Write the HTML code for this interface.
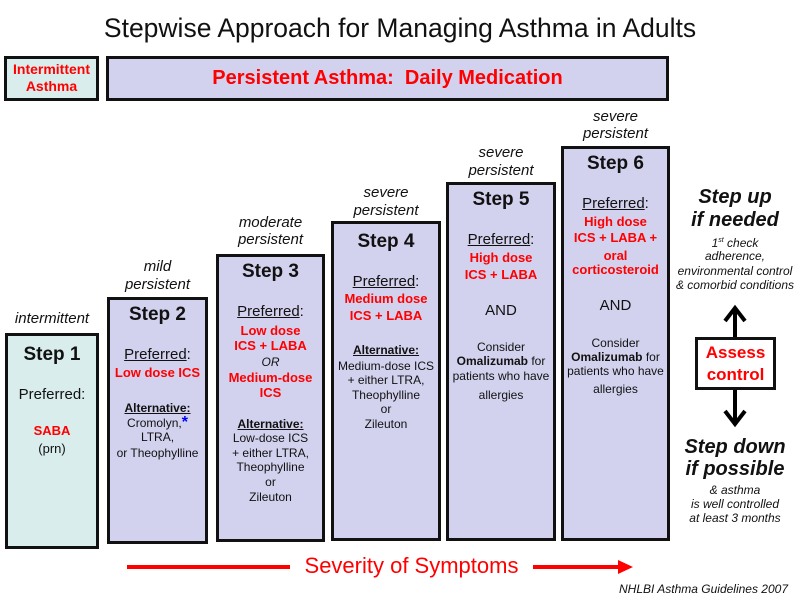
<!DOCTYPE html>
<html><head><meta charset="utf-8"><style>
body{margin:0;width:800px;height:600px;background:#fff;position:relative;overflow:hidden;font-family:"Liberation Sans",Arial,sans-serif;color:#111}
.b{position:absolute;border:3px solid #111;box-sizing:border-box;background:#d2d2ef}
.t{position:absolute;text-align:center;line-height:16px;white-space:nowrap;font-size:12px}
.r{color:#f00;font-weight:bold;font-size:13px}
.h{font-weight:bold;font-size:19px;line-height:22px}
.i{font-style:italic;font-size:15px}
.p{font-size:15px}
.u{text-decoration:underline}
.al{font-weight:bold;text-decoration:underline;font-size:12px}
.s{font-size:12px;line-height:14px;font-style:italic}
.big{font-size:20px;line-height:22px;font-weight:bold;font-style:italic}
</style></head><body>
<div class="t" style="left:0;width:800px;top:12px;font-size:26.5px;line-height:32px">Stepwise Approach for Managing Asthma in Adults</div>
<div class="b" style="left:4px;top:56px;width:95px;height:45px;background:#daeded"></div>
<div class="t r" style="left:4px;width:95px;top:61px;font-size:14px">Intermittent</div>
<div class="t r" style="left:4px;width:95px;top:78px;font-size:14px">Asthma</div>
<div class="b" style="left:106px;top:56px;width:563px;height:45px"></div>
<div class="t r" style="left:106px;width:563px;top:66px;font-size:20px;line-height:24px">Persistent Asthma:&nbsp; Daily Medication</div>

<!-- Step1 -->
<div class="b" style="left:5px;top:333px;width:94px;height:216px;background:#daeded"></div>
<div class="t i" style="left:0;width:104px;top:311px">intermittent</div>
<div class="t h" style="left:5px;width:94px;top:344px">Step 1</div>
<div class="t p" style="left:5px;width:94px;top:387px">Preferred:</div>
<div class="t r" style="left:5px;width:94px;top:423px">SABA</div>
<div class="t" style="left:5px;width:94px;top:441px;font-size:13px">(prn)</div>

<!-- Step2 -->
<div class="b" style="left:107px;top:297px;width:101px;height:247px"></div>
<div class="t i" style="left:107px;width:101px;top:259px">mild</div>
<div class="t i" style="left:107px;width:101px;top:277px">persistent</div>
<div class="t h" style="left:107px;width:101px;top:304px">Step 2</div>
<div class="t p" style="left:107px;width:101px;top:347px"><span class="u">Preferred</span>:</div>
<div class="t r" style="left:107px;width:101px;top:365px">Low dose ICS</div>
<div class="t al" style="left:107px;width:101px;top:400px">Alternative:</div>
<div class="t" style="left:107px;width:101px;top:415px">Cromolyn,<b style="color:#00f;font-size:16px">*</b></div>
<div class="t" style="left:107px;width:101px;top:429px">LTRA,</div>
<div class="t" style="left:107px;width:101px;top:445px">or Theophylline</div>

<!-- Step3 -->
<div class="b" style="left:216px;top:254px;width:109px;height:288px"></div>
<div class="t i" style="left:216px;width:109px;top:215px">moderate</div>
<div class="t i" style="left:216px;width:109px;top:232px">persistent</div>
<div class="t h" style="left:216px;width:109px;top:261px">Step 3</div>
<div class="t p" style="left:216px;width:109px;top:304px"><span class="u">Preferred</span>:</div>
<div class="t r" style="left:216px;width:109px;top:323px">Low dose</div>
<div class="t r" style="left:216px;width:109px;top:338px">ICS + LABA</div>
<div class="t" style="left:216px;width:109px;top:354px;font-style:italic">OR</div>
<div class="t r" style="left:216px;width:109px;top:370px">Medium-dose</div>
<div class="t r" style="left:216px;width:109px;top:385px">ICS</div>
<div class="t al" style="left:216px;width:109px;top:416px">Alternative:</div>
<div class="t" style="left:216px;width:109px;top:430px">Low-dose ICS</div>
<div class="t" style="left:216px;width:109px;top:445px">+ either LTRA,</div>
<div class="t" style="left:216px;width:109px;top:459px">Theophylline</div>
<div class="t" style="left:216px;width:109px;top:474px">or</div>
<div class="t" style="left:216px;width:109px;top:489px">Zileuton</div>

<!-- Step4 -->
<div class="b" style="left:331px;top:221px;width:110px;height:320px"></div>
<div class="t i" style="left:331px;width:110px;top:185px">severe</div>
<div class="t i" style="left:331px;width:110px;top:203px">persistent</div>
<div class="t h" style="left:331px;width:110px;top:231px">Step 4</div>
<div class="t p" style="left:331px;width:110px;top:274px"><span class="u">Preferred</span>:</div>
<div class="t r" style="left:331px;width:110px;top:291px">Medium dose</div>
<div class="t r" style="left:331px;width:110px;top:308px">ICS + LABA</div>
<div class="t al" style="left:331px;width:110px;top:342px">Alternative:</div>
<div class="t" style="left:331px;width:110px;top:358px">Medium-dose ICS</div>
<div class="t" style="left:331px;width:110px;top:372px">+ either LTRA,</div>
<div class="t" style="left:331px;width:110px;top:387px">Theophylline</div>
<div class="t" style="left:331px;width:110px;top:401px">or</div>
<div class="t" style="left:331px;width:110px;top:416px">Zileuton</div>

<!-- Step5 -->
<div class="b" style="left:446px;top:182px;width:110px;height:359px"></div>
<div class="t i" style="left:446px;width:110px;top:145px">severe</div>
<div class="t i" style="left:446px;width:110px;top:163px">persistent</div>
<div class="t h" style="left:446px;width:110px;top:189px">Step 5</div>
<div class="t p" style="left:446px;width:110px;top:232px"><span class="u">Preferred</span>:</div>
<div class="t r" style="left:446px;width:110px;top:250px">High dose</div>
<div class="t r" style="left:446px;width:110px;top:267px">ICS + LABA</div>
<div class="t p" style="left:446px;width:110px;top:303px">AND</div>
<div class="t" style="left:446px;width:110px;top:339px">Consider</div>
<div class="t" style="left:446px;width:110px;top:353px"><b>Omalizumab</b> for</div>
<div class="t" style="left:446px;width:110px;top:368px">patients who have</div>
<div class="t" style="left:446px;width:110px;top:387px">allergies</div>

<!-- Step6 -->
<div class="b" style="left:561px;top:146px;width:109px;height:395px"></div>
<div class="t i" style="left:561px;width:109px;top:109px">severe</div>
<div class="t i" style="left:561px;width:109px;top:126px">persistent</div>
<div class="t h" style="left:561px;width:109px;top:153px">Step 6</div>
<div class="t p" style="left:561px;width:109px;top:196px"><span class="u">Preferred</span>:</div>
<div class="t r" style="left:561px;width:109px;top:214px">High dose</div>
<div class="t r" style="left:561px;width:109px;top:230px">ICS + LABA +</div>
<div class="t r" style="left:561px;width:109px;top:248px">oral</div>
<div class="t r" style="left:561px;width:109px;top:262px">corticosteroid</div>
<div class="t p" style="left:561px;width:109px;top:298px">AND</div>
<div class="t" style="left:561px;width:109px;top:335px">Consider</div>
<div class="t" style="left:561px;width:109px;top:349px"><b>Omalizumab</b> for</div>
<div class="t" style="left:561px;width:109px;top:363px">patients who have</div>
<div class="t" style="left:561px;width:109px;top:381px">allergies</div>

<!-- right column -->
<div class="t big" style="left:670px;width:130px;top:186px">Step up</div>
<div class="t big" style="left:670px;width:130px;top:209px">if needed</div>
<div class="t s" style="left:670px;width:130px;top:234px">1<sup style="font-size:7px">st</sup> check</div>
<div class="t s" style="left:670px;width:130px;top:249px">adherence,</div>
<div class="t s" style="left:670px;width:130px;top:264px">environmental control</div>
<div class="t s" style="left:670px;width:130px;top:278px">&amp; comorbid conditions</div>
<svg style="position:absolute;left:0;top:0" width="800" height="600">
<line x1="735" y1="310" x2="735" y2="338" stroke="#000" stroke-width="4"/>
<polyline points="725,321 735,308 745,321" fill="none" stroke="#000" stroke-width="4"/>
<line x1="735" y1="389" x2="735" y2="422" stroke="#000" stroke-width="4"/>
<polyline points="725,411 735,424 745,411" fill="none" stroke="#000" stroke-width="4"/>
<line x1="127" y1="567" x2="290" y2="567" stroke="#f00" stroke-width="4"/>
<line x1="533" y1="567" x2="620" y2="567" stroke="#f00" stroke-width="4"/>
<polygon points="618,560 633,567 618,574" fill="#f00"/>
</svg>
<div class="b" style="left:695px;top:337px;width:81px;height:53px;background:#fff"></div>
<div class="t r" style="left:695px;width:81px;top:343px;font-size:17px;line-height:20px">Assess</div>
<div class="t r" style="left:695px;width:81px;top:365px;font-size:17px;line-height:20px">control</div>
<div class="t big" style="left:670px;width:130px;top:436px">Step down</div>
<div class="t big" style="left:670px;width:130px;top:458px">if possible</div>
<div class="t s" style="left:670px;width:130px;top:483px">&amp; asthma</div>
<div class="t s" style="left:670px;width:130px;top:497px">is well controlled</div>
<div class="t s" style="left:670px;width:130px;top:511px">at least 3 months</div>

<div class="t" style="left:250px;width:323px;top:553px;font-size:22px;line-height:26px;color:#f00">Severity of Symptoms</div>
<div class="t" style="left:540px;width:248px;top:582px;font-size:12px;line-height:14px;font-style:italic;text-align:right">NHLBI Asthma Guidelines 2007</div>
</body></html>
